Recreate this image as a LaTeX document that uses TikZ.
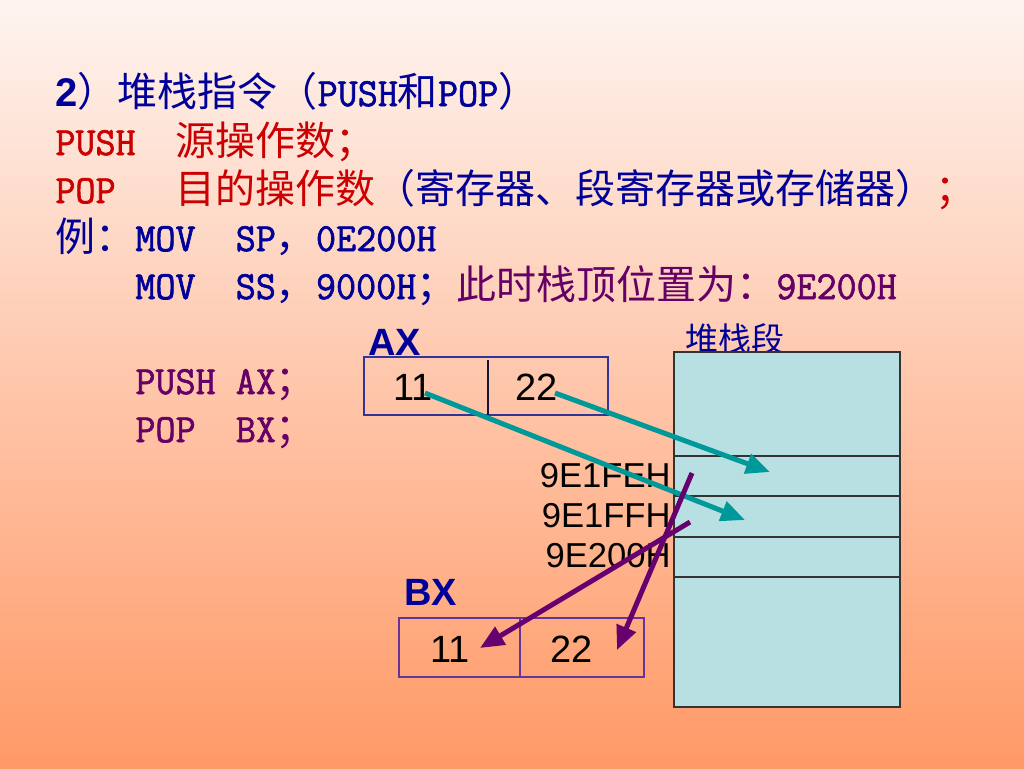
\documentclass[tikz,border=0pt]{standalone}
\usepackage{fontspec}
\setmainfont[FakeStretch=0.975,FakeBold=1.6]{Latin Modern Mono}
\newfontfamily\cjk{Noto Sans CJK SC}
\newfontfamily\arial{Liberation Sans}
\newcommand{\zh}[1]{{\cjk #1}}
\usetikzlibrary{arrows.meta}
\definecolor{slideblue}{RGB}{0,0,153}
\definecolor{slidered}{RGB}{204,0,0}
\definecolor{slidepurple}{RGB}{102,0,102}
\definecolor{stackfill}{RGB}{184,224,226}
\definecolor{arrowteal}{RGB}{0,153,153}
\definecolor{arrowpurple}{RGB}{102,0,110}
\definecolor{axline}{RGB}{51,51,153}
\definecolor{bxline}{RGB}{102,51,153}
\definecolor{bgtop}{RGB}{254,244,240}
\definecolor{bgbottom}{RGB}{255,153,102}

\begin{document}
\begin{tikzpicture}[
		x={(0.5pt,0pt)},
		y={(0pt,-0.5pt)},
		textline/.style={anchor=base west,inner sep=0pt,font=\fontsize{20pt}{24pt}\selectfont},
		reglabel/.style={anchor=base west,inner sep=0pt,text=slideblue,font=\arial\bfseries\fontsize{19pt}{23pt}\selectfont},
		digit/.style={anchor=base,inner sep=0pt,font=\arial\fontsize{19pt}{23pt}\selectfont},
		addr/.style={anchor=base east,inner sep=0pt,font=\arial\fontsize{17.3pt}{20pt}\selectfont},
		moveto/.style={line width=2.5pt,-{Triangle[length=12pt,width=10pt]}},
	]
		\shade[top color=bgtop,bottom color=bgbottom] (0,0) rectangle (1024,768);
		
		\node[textline,text=slideblue] (l1) at (55,106) {{\arial\bfseries 2}\zh{）堆栈指令（}PUSH\zh{和}POP\zh{）}};
		\node[textline,text=slidered] (l2) at (55,155) {PUSH\ \ \zh{源操作数；}};
		\node[textline,text=slidered] (l3) at (55,203) {POP\ \ \ \zh{目的操作数\textcolor{slideblue}{（寄存器、段寄存器或存储器）}；}};
		\node[textline,text=slideblue] (l4) at (55,251) {\zh{例：}MOV\ \ SP\zh{，}0E200H};
		\node[textline,text=slideblue] (l5) at (135,299) {MOV\ \ SS\zh{，}9000H\zh{；}\textcolor{slidepurple}{\zh{此时栈顶位置为：}9E200H}};
		\node[textline,text=slidepurple] (l6) at (135,394) {PUSH AX\zh{；}};
		\node[textline,text=slidepurple] (l7) at (135,442) {POP\ \ BX\zh{；}};
		
		\node[inner sep=0pt,text=slideblue,font=\cjk\fontsize{16.5pt}{20pt}\selectfont] (seg) at (735,339) {堆栈段};
		\draw[fill=stackfill,draw=black!80,line width=0.6pt] (674,352) rectangle (900,707);
		\foreach \y in {456,496,537,577}{
			\draw[black!80,line width=0.6pt] (674,\y) -- (900,\y);
		}
		\foreach \a/\y in {9E1FEH/487, 9E1FFH/527, 9E200H/567}{
			\node[addr] (a\a) at (671,\y) {\a};
		}
		\coordinate (pushFE) at (770,472);
		\coordinate (pushFF) at (745,520);
		\coordinate (popFE) at (692,473);
		\coordinate (popFF) at (690,522);
		
		\node[reglabel] (axlabel) at (368,355) {AX};
		\draw[axline,line width=0.7pt] (364,357) rectangle (608,415);
		\draw[black!60!axline,line width=0.7pt] (488,360) -- (488,415);
		\node[digit] (ax11) at (413,400) {11};
		\node[digit] (ax22) at (537,400) {22};
		
		\node[reglabel] (bxlabel) at (404,605) {BX};
		\draw[bxline,line width=0.7pt] (399,618) rectangle (644,677);
		\draw[bxline,line width=0.7pt] (520,618) -- (520,677);
		\node[digit] (bx11) at (450,662) {11};
		\node[digit] (bx22) at (572,662) {22};
		
		\draw[moveto,arrowteal] ([shift={(12,-7)}]ax11.base) -- (pushFF);
		\draw[moveto,arrowteal] ([shift={(18,-7)}]ax22.base) -- (pushFE);
		\draw[moveto,arrowpurple] (popFE) -- ([shift={(45,-12)}]bx22.base);
		\draw[moveto,arrowpurple] (popFF) -- ([shift={(30,-14)}]bx11.base);
	\end{tikzpicture}
\end{document}
